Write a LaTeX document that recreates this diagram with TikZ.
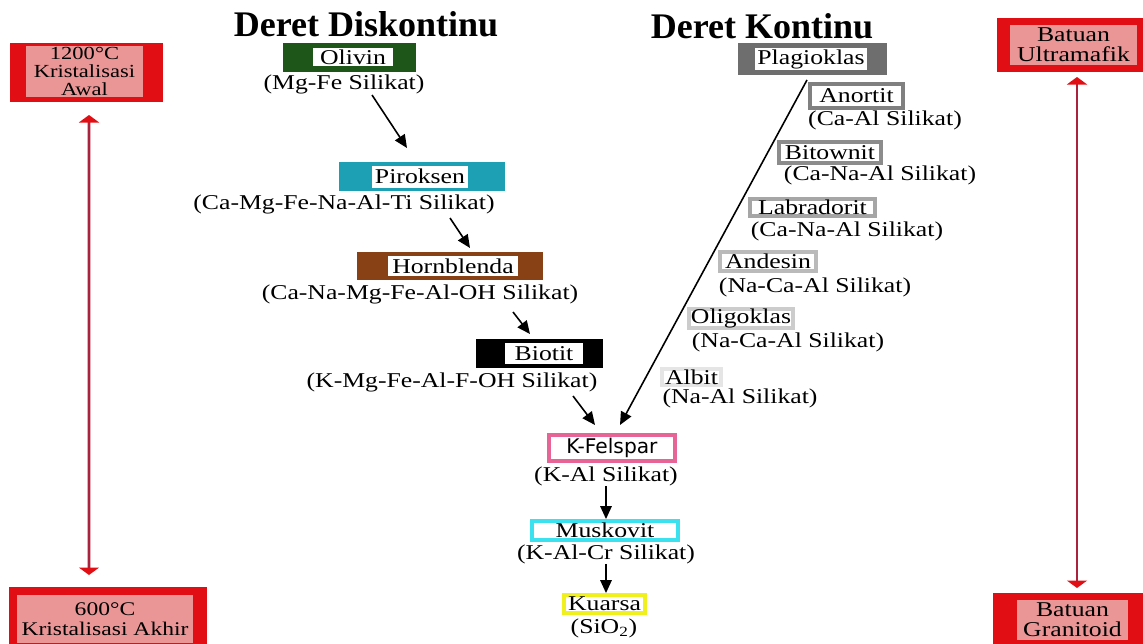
\documentclass[tikz,border=0pt]{standalone}
\usepackage{fontspec}
\setmainfont{Liberation Serif}
\newfontfamily\wideserif[FakeStretch=1.22]{Liberation Serif}
\newfontfamily\sansfont{DejaVu Sans}
\usetikzlibrary{arrows.meta,calc}
\definecolor{olgreen}{RGB}{30,85,25}
\definecolor{pxteal}{RGB}{30,160,180}
\definecolor{hbbrown}{RGB}{135,65,20}
\definecolor{plgray}{RGB}{110,110,110}
\definecolor{kfpink}{RGB}{230,100,150}
\definecolor{mscyan}{RGB}{60,225,240}
\definecolor{kuyellow}{RGB}{240,240,30}
\definecolor{tempred}{RGB}{225,15,20}
\definecolor{temppink}{RGB}{235,150,150}
\definecolor{shaftred}{RGB}{170,35,60}
\newcommand{\ttlfont}{\fontsize{20.5}{22}\selectfont\bfseries}
\newcommand{\lblfont}{\wideserif\fontsize{12}{14}\selectfont}
\newcommand{\tmpfont}{\wideserif\fontsize{10.5}{10}\selectfont}
\newcommand{\rockfont}{\wideserif\fontsize{12}{11.3}\selectfont}

\begin{document}
\begin{tikzpicture}[x=0.02cm,y=-0.02cm,
    wh/.style 2 args={minimum width=#1*0.02cm,minimum height=#2*0.02cm},
    mbox/.style={fill=#1,inner sep=0pt},
    mname/.style={fill=white,inner sep=0pt,font=\lblfont},
    serbox/.style={draw=#1,fill=white,line width=2.2pt,inner sep=0pt,font=\lblfont},
    fml/.style={font=\lblfont,inner sep=0pt},
    tbox/.style={fill=tempred,inner sep=0pt},
    tname/.style={fill=temppink,inner sep=0pt,align=center,font=\tmpfont},
    dbl/.style={shaftred,line width=1.5pt,>={Triangle[length=0.15cm,width=0.4cm,color=tempred]},<->},
    >={Triangle[length=2.6mm,width=2.3mm]}]
  \useasboundingbox (0,0) rectangle (1143,643);

  % titles
  \node[font=\ttlfont] (disk) at (366,24) {Deret Diskontinu};
  \node[font=\ttlfont] (kont) at (762,26) {Deret Kontinu};

  % temperature and rock boxes
  \node[tbox,wh={153}{59}] (awal) at (86.5,72.5) {};
  \node[tname,wh={117}{51}] (awalt) at (84.5,71.5) {1200°C\\Kristalisasi\\Awal};
  \node[tbox,wh={198}{60}] (akhir) at (108,617) {};
  \node[tname,wh={176}{48},font=\wideserif\fontsize{11}{11.3}\selectfont] (akhirt) at (105,619) {600°C\\Kristalisasi Akhir};
  \node[tbox,wh={150}{54}] (ultra) at (1072,45) {};
  \node[tname,wh={127}{40},font=\rockfont] (ultrat) at (1073.5,45) {Batuan\\Ultramafik};
  \node[tbox,wh={154}{55}] (granit) at (1070,620.5) {};
  \node[tname,wh={111}{40},font=\rockfont] (granitt) at (1072.5,620) {Batuan\\Granitoid};
  \draw[dbl] ($(awal)+(2.5,42.5)$) -- ($(akhir)+(-19,-42)$);
  \draw[dbl] ($(ultra)+(5,32)$) -- ($(granit)+(7,-32.5)$);

  % discontinuous series
  \node[mbox=olgreen,wh={133}{29}] (olivin) at (349.5,57.5) {};
  \node[mname,wh={80}{18}] (olivint) at (353,57) {Olivin};
  \node[fml] (olivinf) at (344,84) {(Mg-Fe Silikat)};
  \node[mbox=pxteal,wh={166}{29}] (piroksen) at (422,176.5) {};
  \node[mname,wh={96}{22}] (piroksent) at (420,176.5) {Piroksen};
  \node[fml] (piroksenf) at (344,204) {(Ca-Mg-Fe-Na-Al-Ti Silikat)};
  \node[mbox=hbbrown,wh={186}{28}] (hornbl) at (450,266) {};
  \node[mname,wh={130}{20}] (hornblt) at (453,266) {Hornblenda};
  \node[fml] (hornblf) at (420,294) {(Ca-Na-Mg-Fe-Al-OH Silikat)};
  \node[mbox=black,wh={127}{29}] (biotit) at (539.5,353.5) {};
  \node[mname,wh={78}{21}] (biotitt) at (544,353.5) {Biotit};
  \node[fml] (biotitf) at (452,382) {(K-Mg-Fe-Al-F-OH Silikat)};
  \draw[->,line width=0.9pt] ($(olivinf)+(28,11)$) -- ($(piroksen)+(-15,-28.5)$);
  \draw[->,line width=0.9pt] ($(piroksenf)+(106,14)$) -- ($(hornbl)+(20,-18)$);
  \draw[->,line width=0.9pt] ($(hornblf)+(93,18)$) -- ($(biotit)+(-9.5,-19.5)$);

  % continuous series
  \node[mbox=plgray,wh={149}{32}] (plag) at (812.5,59) {};
  \node[mname,wh={112}{22}] (plagt) at (811,59) {Plagioklas};
  \node[serbox=black!50,wh={93}{24}] (anortit) at (856.5,96) {Anortit};
  \node[fml] (anortitf) at (885,120) {(Ca-Al Silikat)};
  \node[serbox=black!45,wh={102}{21}] (bitownit) at (830,152.5) {Bitownit};
  \node[fml] (bitownitf) at (880,175) {(Ca-Na-Al Silikat)};
  \node[serbox=black!35,wh={125}{17}] (labrad) at (812.5,207.5) {Labradorit};
  \node[fml] (labradf) at (847,231) {(Ca-Na-Al Silikat)};
  \node[serbox=black!27,wh={96}{19}] (andesin) at (768,261.5) {Andesin};
  \node[fml] (andesinf) at (815,287) {(Na-Ca-Al Silikat)};
  \node[serbox=black!20,wh={104}{19}] (oligo) at (741,318.5) {Oligoklas};
  \node[fml] (oligof) at (788,342) {(Na-Ca-Al Silikat)};
  \node[serbox=black!10,wh={59}{16}] (albit) at (691.5,377) {Albit};
  \node[fml] (albitf) at (740,398) {(Na-Al Silikat)};

  % end of both series
  \node[serbox=kfpink,wh={126}{26},font=\sansfont\fontsize{11.5}{13}\selectfont] (kfel) at (612,448) {K-Felspar};
  \node[fml] (kfelf) at (606,476) {(K-Al Silikat)};
  \node[serbox=mscyan,wh={146}{19}] (musk) at (605,530.5) {Muskovit};
  \node[fml] (muskf) at (606,554) {(K-Al-Cr Silikat)};
  \node[serbox=kuyellow,wh={81}{18}] (kuarsa) at (604.5,604) {Kuarsa};
  \node[fml] (kuarsaf) at (604,628) {(SiO\textsubscript{2})};
  \draw[->,line width=0.9pt] ($(biotitf)+(121,14)$) -- ($(kfel)+(-17,-23)$);
  \draw[->,line width=0.9pt] ($(plag)+(-5.5,21)$) -- ($(kfel)+(8,-23)$);
  \draw[->,line width=0.9pt] (kfelf.south) -- (kfelf.south |- musk.north);
  \draw[->,line width=0.9pt] (muskf.south) -- (muskf.south |- kuarsa.north);
\end{tikzpicture}
\end{document}
